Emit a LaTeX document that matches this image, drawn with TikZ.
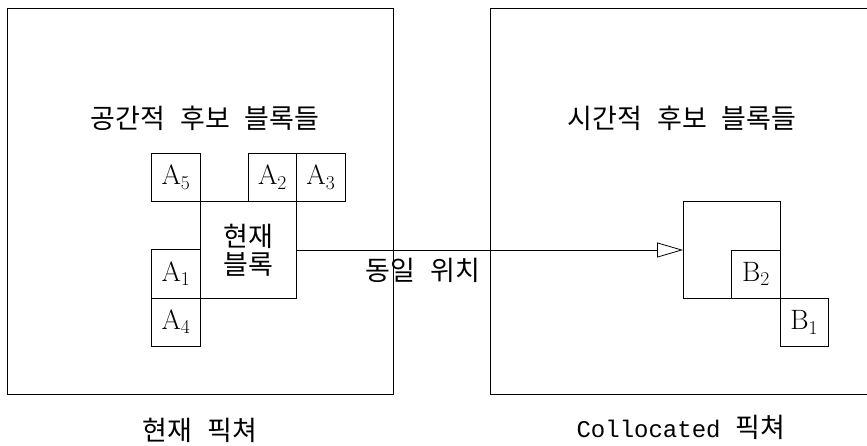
\RequirePackage{fix-cm}
\documentclass[tikz,border=0pt]{standalone}
\usepackage[no-math]{fontspec}
\setmainfont{Noto Sans CJK KR}[WordSpace=2.5]
\newfontfamily\latinmono{Liberation Mono}
\usetikzlibrary{arrows.meta}

\tikzset{
  blk/.style={draw, minimum width=48.3pt, minimum height=48.3pt, inner sep=0pt,
    font=\fontsize{28}{32}\selectfont},
  bigblk/.style={blk, minimum width=96.8pt, minimum height=96.8pt},
  lbl/.style={inner sep=0pt, font=\fontsize{27}{28}\selectfont},
}

\begin{document}
\begin{tikzpicture}[x=1pt, y=-1pt, line width=.8pt, >={Triangle[open,length=26pt,width=15pt]}]
  \clip (0,0) rectangle (867,446);

  % current picture and collocated picture
  \draw (7,8.5) rectangle (393.5,394.5);
  \draw (490,8.5) rectangle (880,394.5);

  \node[lbl] (titleL) at (205,118.5) {공간적 후보 블록들};
  \node[lbl] (titleR) at (682,118.5) {시간적 후보 블록들};

  % spatial candidates round the current block
  \node[bigblk, lbl, align=center] (cur) at (248.3,250) {현재\\블록};
  \foreach \n/\x/\y in {5/176/177.5, 2/272.5/177.5, 3/320.8/177.5, 1/176/274, 4/176/322.3}
  {
    \node[blk] (A\n) at (\x,\y) {$\mathrm{A}_\n$};
  }

  % temporal candidates
  \node[bigblk] (col) at (731.8,250) {};
  \node[blk] (B2) at (756,274.2) {$\mathrm{B}_2$};
  \node[blk] (B1) at (804.3,322.5) {$\mathrm{B}_1$};

  \draw[->] (cur.east) -- (col.west);
  \node[lbl] (same) at (423,270.5) {동일 위치};

  \node[lbl] (picL) at (200,430) {현재 픽쳐};
  \node[lbl] (picR) at (681,427) {{\latinmono\fontsize{24}{27}\selectfont Collocated} 픽쳐};
\end{tikzpicture}
\end{document}
